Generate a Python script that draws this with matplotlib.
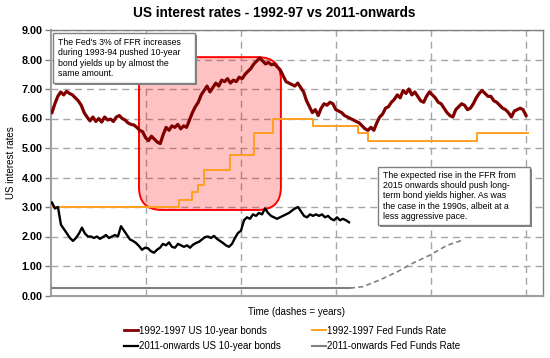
import numpy as np
import matplotlib
matplotlib.use("Agg")
import matplotlib.pyplot as plt
from matplotlib.patches import FancyBboxPatch, Rectangle
from matplotlib.lines import Line2D

plt.rcParams['font.family'] = ['Liberation Sans', 'DejaVu Sans']

# ---------------- data (x in years since start) ----------------
bond92 = [6.2, 6.5, 6.75, 6.9, 6.8, 6.92, 6.85, 6.8, 6.7, 6.6, 6.45, 6.2, 6.05, 5.92, 6.05, 5.9,
          6.0, 5.88, 6.05, 5.95, 5.98, 5.9, 6.05, 6.1, 6.0, 5.95, 5.85, 5.8, 5.78, 5.7, 5.6, 5.55,
          5.35, 5.25, 5.4, 5.3, 5.2, 5.15, 5.45, 5.7, 5.6, 5.75, 5.7, 5.8, 5.65, 5.75, 5.7, 5.95,
          6.2, 6.4, 6.55, 6.8, 6.95, 7.1, 6.9, 7.05, 7.2, 7.1, 7.3, 7.25, 7.35, 7.2, 7.3, 7.25,
          7.4, 7.35, 7.5, 7.6, 7.7, 7.85, 7.95, 8.05, 7.95, 7.85, 7.9, 7.82, 7.85, 7.75, 7.65, 7.45,
          7.25, 7.2, 7.15, 7.1, 7.2, 7.05, 6.9, 6.6, 6.4, 6.2, 6.3, 6.1, 6.35, 6.5, 6.45, 6.55,
          6.5, 6.3, 6.25, 6.2, 6.1, 6.05, 6.0, 5.95, 5.9, 5.85, 5.75, 5.65, 5.6, 5.7, 5.6, 5.85,
          6.05, 6.15, 6.35, 6.4, 6.55, 6.65, 6.8, 6.7, 6.95, 6.85, 7.0, 6.8, 6.9, 6.75, 6.6, 6.55,
          6.75, 6.9, 6.8, 6.7, 6.55, 6.5, 6.35, 6.2, 6.1, 6.05, 6.3, 6.4, 6.5, 6.45, 6.3, 6.35,
          6.5, 6.7, 6.85, 6.95, 6.85, 6.75, 6.75, 6.6, 6.55, 6.45, 6.35, 6.3, 6.2, 6.05, 6.25, 6.3,
          6.35, 6.3, 6.1]
bond92_start, bond92_end = 0.01, 5.0

ffr92_dates = [0.0, 1.347, 1.484, 1.547, 1.611, 1.884, 2.137, 2.337, 2.758, 3.232, 3.337, 4.484, 5.02]
ffr92_rates = [3.0, 3.25, 3.5, 3.75, 4.25, 4.75, 5.5, 6.0, 5.75, 5.5, 5.25, 5.5, 5.5]

bond11 = [3.15, 2.95, 3.0, 2.4, 2.25, 2.1, 1.95, 1.85, 1.95, 2.1, 2.3, 2.1, 2.0, 2.0, 1.95, 2.0,
          1.92, 1.98, 2.05, 1.95, 2.0, 2.05, 2.0, 2.35, 2.2, 2.05, 1.9, 1.85, 1.78, 1.68, 1.55, 1.62,
          1.6, 1.5, 1.45, 1.55, 1.62, 1.75, 1.7, 1.8, 1.65, 1.62, 1.75, 1.7, 1.65, 1.7, 1.62, 1.72,
          1.78, 1.82, 1.9, 1.98, 2.0, 1.95, 2.02, 1.92, 1.85, 1.78, 1.7, 1.65, 1.75, 1.95, 2.12, 2.2,
          2.55, 2.65, 2.6, 2.75, 2.7, 2.8, 2.75, 2.95, 2.8, 2.7, 2.65, 2.6, 2.65, 2.7, 2.75, 2.8,
          2.88, 2.95, 3.0, 2.85, 2.7, 2.65, 2.75, 2.7, 2.75, 2.7, 2.75, 2.65, 2.7, 2.6, 2.55, 2.65,
          2.55, 2.6, 2.55, 2.48]
bond11_start, bond11_end = 0.01, 3.137

ffr11_dates = [0.01, 3.147]
ffr11_rates = [0.25, 0.25]
ffr11_proj_dates = [3.147, 3.284, 3.463, 3.642, 3.811, 3.989, 4.168, 4.326]
ffr11_proj_rates = [0.25, 0.30, 0.53, 0.80, 1.10, 1.37, 1.70, 1.87]

yticks = [0, 1, 2, 3, 4, 5, 6, 7, 8, 9]
year_marks = [1, 2, 3, 4, 5]

title = "US interest rates - 1992-97 vs 2011-onwards"
labels = ["1992-1997 US 10-year bonds", "1992-1997 Fed Funds Rate",
          "2011-onwards US 10-year bonds", "2011-onwards Fed Funds Rate"]
note1 = "The Fed's 3% of FFR increases\nduring 1993-94 pushed 10-year\nbond yields up by almost the\nsame amount."
note2 = ("The expected rise in the FFR from\n2015 onwards should push long-\nterm bond yields higher. As was\n"
         "the case in the 1990s, albeit at a\nless aggressive pace.")

# ---------------- styling ----------------
c_maroon = "#800000"
c_orange = "#FFA020"
c_black = "#000000"
c_gray = "#808080"
c_grid = "#a6a6a6"

W, H = 550, 358
fig = plt.figure(figsize=(5.5, 3.58), dpi=100)
ax = fig.add_axes([51 / W, 1 - 295.5 / H, 492 / W, 265.5 / H])
ax.set_xlim(0, 492 / 95)
ax.set_ylim(0, 9)

# grid
ax.set_yticks(yticks)
ax.set_yticklabels([f"{v:.2f}" for v in yticks], fontsize=7.8, fontweight='bold')
ax.set_xticks(year_marks)
ax.set_xticklabels([])
ax.grid(True, ls=(0, (5, 3.5)), color=c_grid, lw=1, zorder=0)
ax.tick_params(axis='x', length=0)
ax.tick_params(axis='y', length=4, width=1, color=c_gray, pad=2)
for s in ['left', 'bottom']:
    ax.spines[s].set_color('#a0a0a0')
    ax.spines[s].set_linewidth(1.5)
for s in ['top', 'right']:
    ax.spines[s].set_color(c_gray)
    ax.spines[s].set_linewidth(1)
ax.set_axisbelow(True)

# highlight rounded rectangle
aspect = (1 / 29.5) / (1 / 95)
rect = FancyBboxPatch((0.926, 2.9), 2.42 - 0.926, 8.08 - 2.9,
                      boxstyle="round,pad=0,rounding_size=0.24", mutation_aspect=aspect,
                      facecolor=(1, 0, 0, 0.24), edgecolor="#ff0000", lw=1.4, zorder=1)
ax.add_patch(rect)

# series
x_b92 = np.linspace(bond92_start, bond92_end, len(bond92))
x_b11 = np.linspace(bond11_start, bond11_end, len(bond11))
ax.plot(ffr11_dates, ffr11_rates, color=c_gray, lw=1.5, zorder=3)
ax.plot(ffr11_proj_dates, ffr11_proj_rates, color=c_gray, lw=1.2, ls=(0, (3, 2)), zorder=3)
ax.plot(ffr92_dates, ffr92_rates, color=c_orange, lw=1.4, drawstyle='steps-post', zorder=3)
ax.plot(x_b11, bond11, color=c_black, lw=1.7, zorder=4)
ax.plot(x_b92, bond92, color=c_maroon, lw=2.3, zorder=4)

# note boxes (with shadow)
def note(x0, x1, ytop, ybot, text):
    t = ax.transAxes
    dx, dy = 2 / 492, 2 / 265.5
    ax.add_patch(Rectangle((x0 + dx, ybot - dy), x1 - x0, ytop - ybot, transform=t,
                           facecolor="#808080", edgecolor='none', zorder=6))
    ax.add_patch(Rectangle((x0, ybot), x1 - x0, ytop - ybot, transform=t,
                           facecolor="white", edgecolor="#808080", lw=1, zorder=7))
    ax.text(x0 + 5 / 492, (ytop + ybot) / 2, text, transform=t, fontsize=6.3,
            va='center', ha='left', linespacing=1.15, zorder=8)

note((53 - 51) / 492, (195 - 51) / 492, (295.5 - 33) / 265.5, (295.5 - 83) / 265.5, note1)
note((378 - 51) / 492, (530 - 51) / 492, (295.5 - 167) / 265.5, (295.5 - 225) / 265.5, note2)

# titles / labels
fig.text(274 / W, 1 - 13 / H, title, ha='center', va='center', fontsize=9.8, fontweight='bold')
ax.set_ylabel("US interest rates", fontsize=7, labelpad=4)
ax.set_xlabel("Time (dashes = years)", fontsize=7, labelpad=5)

h_b92 = Line2D([], [], color=c_maroon, lw=2)
h_f92 = Line2D([], [], color=c_orange, lw=1.4)
h_b11 = Line2D([], [], color=c_black, lw=1.6)
h_f11 = Line2D([], [], color=c_gray, lw=1.5)
fig.legend([h_b92, h_b11, h_f92, h_f11], [labels[0], labels[2], labels[1], labels[3]],
           ncol=2, loc='center', bbox_to_anchor=(292 / W, 1 - 338.5 / H),
           frameon=False, fontsize=7, handlelength=1.4, handletextpad=0.1,
           columnspacing=3.2, labelspacing=0.6)

fig.savefig("out.png", dpi=100)
